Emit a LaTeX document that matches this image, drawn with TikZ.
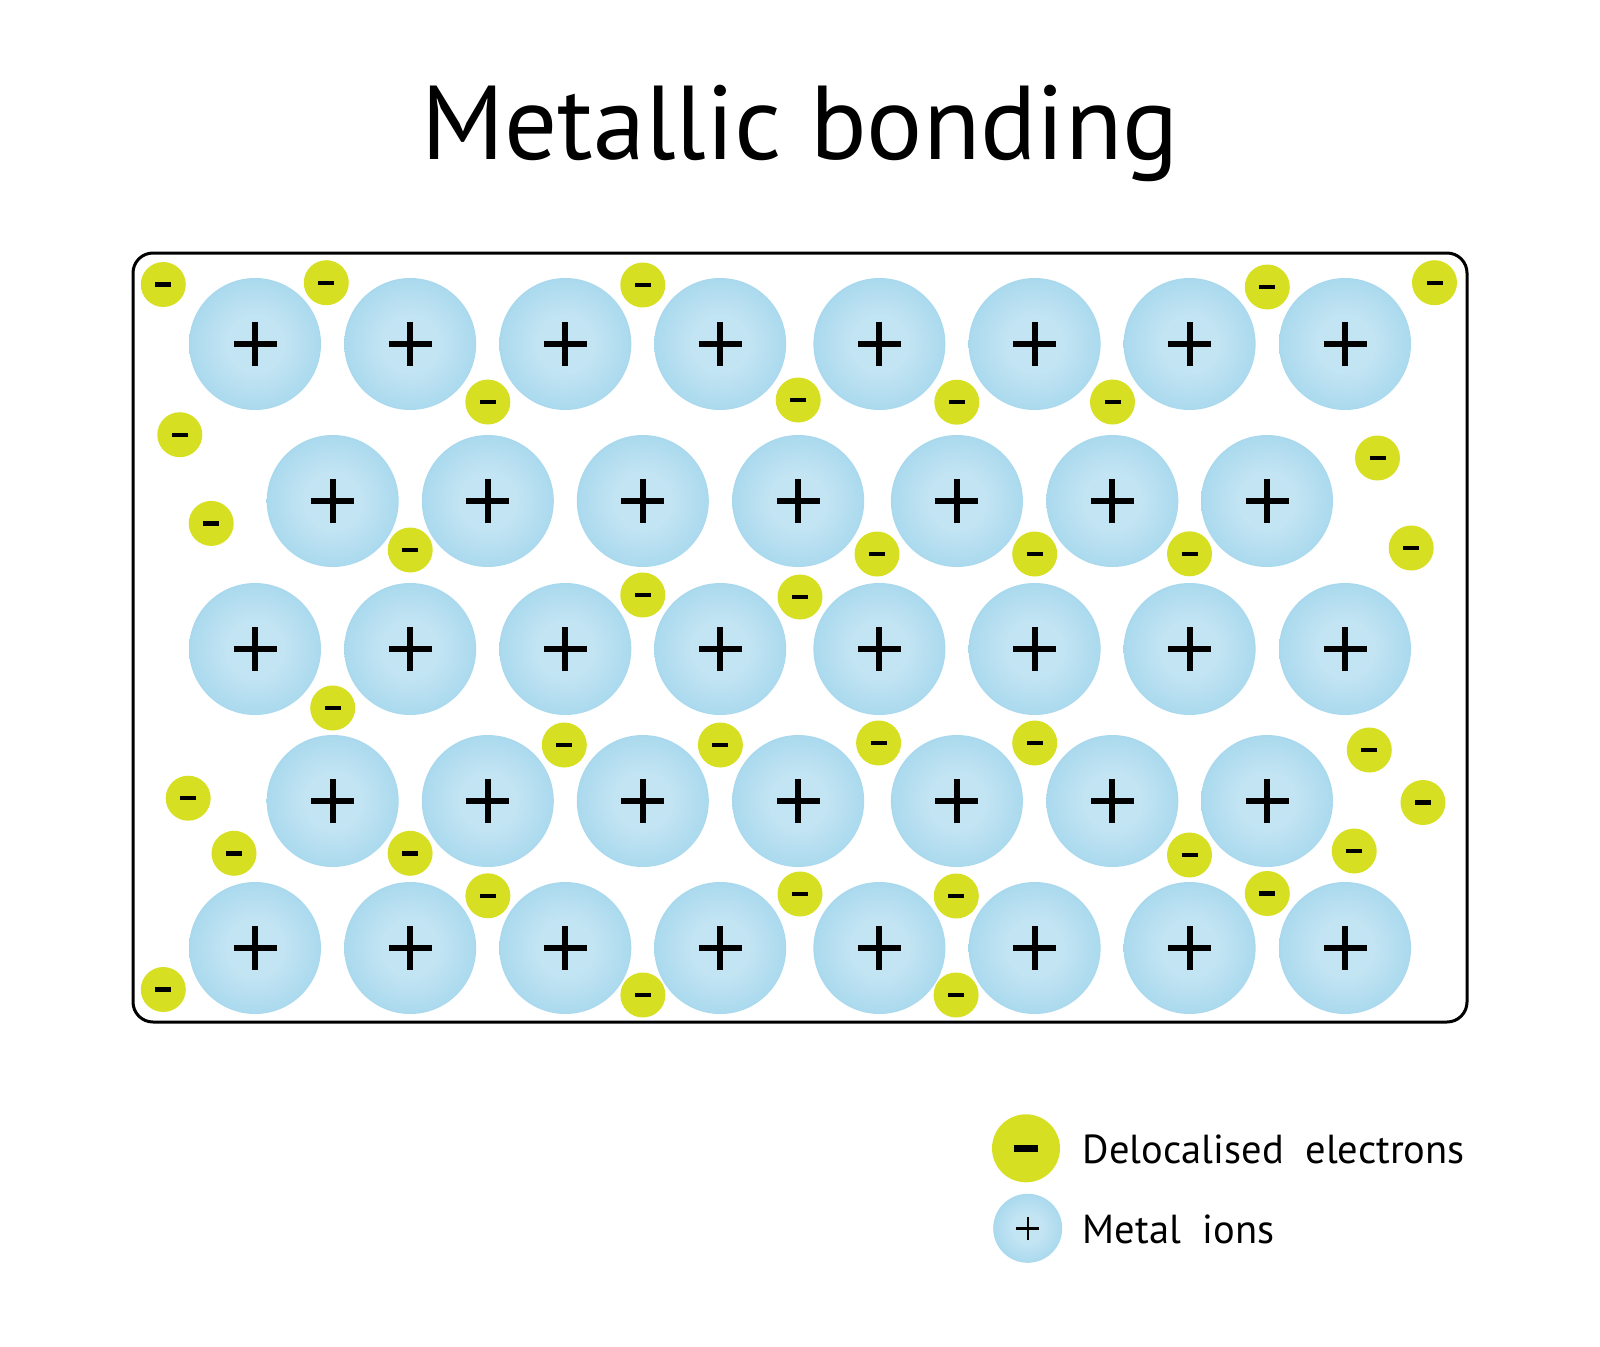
\documentclass[tikz,border=0pt]{standalone}
\usepackage{fontspec}
\setmainfont{PT Sans}
\definecolor{ionin}{RGB}{194,228,243}
\definecolor{ionmid}{RGB}{172,218,238}
\definecolor{ionmid2}{RGB}{148,207,233}
\definecolor{ionout}{RGB}{120,195,227}
\definecolor{elec}{RGB}{215,223,35}
\pgfdeclareradialshading{ionshade}{\pgfpoint{0bp}{0bp}}{color(0bp)=(ionin); color(11bp)=(ionin); color(24bp)=(ionmid); color(31bp)=(ionmid2); color(35.4bp)=(ionout); color(50bp)=(ionout)}
\tikzset{
  ion/.style={circle, minimum size=132pt, inner sep=0pt, shading=ionshade,
    path picture={\fill[black] ([xshift=-21.5pt,yshift=-3pt]path picture bounding box.center) rectangle ++(43pt,6pt);
                  \fill[black] ([xshift=-3pt,yshift=-22pt]path picture bounding box.center) rectangle ++(6pt,44pt);}},
  elec/.style={circle, minimum size=45pt, inner sep=0pt, fill=elec,
    path picture={\fill[black] ([xshift=-8pt,yshift=-2.2pt]path picture bounding box.center) rectangle ++(16pt,4.4pt);}},
  legelec/.style={circle, minimum size=68pt, inner sep=0pt, fill=elec,
    path picture={\fill[black] ([xshift=-12pt,yshift=-3.5pt]path picture bounding box.center) rectangle ++(24pt,7pt);}},
  legion/.style={circle, minimum size=69pt, inner sep=0pt, shading=ionshade,
    path picture={\fill[black] ([xshift=-11.5pt,yshift=-1.2pt]path picture bounding box.center) rectangle ++(23pt,2.4pt);
                  \fill[black] ([xshift=-1.2pt,yshift=-11.5pt]path picture bounding box.center) rectangle ++(2.4pt,23pt);}},
  legtext/.style={anchor=base west, inner sep=0pt, font=\fontsize{40.5}{46}\selectfont},
  frame/.style={line width=3pt, rounded corners=20pt}
}
\begin{document}
\begin{tikzpicture}[x=1pt,y=-1pt]
\useasboundingbox (0,0) rectangle (1600,1346);
\node[anchor=base, inner sep=0pt, font=\fontsize{105}{112}\selectfont] (title) at (800,159) {Metallic bonding};
\draw[frame] (133,253) rectangle (1467,1022);
% ions: rows 1,3,5
\foreach \r/\y in {1/344,3/649,5/948}{
  \foreach \c/\x in {1/255,2/410.2,3/565.3,4/720.2,5/879.4,6/1034.6,7/1189.6,8/1345}{
    \node[ion] (ion-\r-\c) at (\x,\y) {};
  }
}
% ions: rows 2,4
\foreach \r/\y in {2/501,4/801}{
  \foreach \c/\x in {1/332.7,2/487.8,3/642.8,4/798.2,5/956.9,6/1112.3,7/1267}{
    \node[ion] (ion-\r-\c) at (\x,\y) {};
  }
}
% electrons
\foreach \n/\x/\y in {
  1/163.3/284.5, 2/326.3/282.7, 3/642.8/285, 4/1267.3/287, 5/1434.5/282.7,
  6/487.8/402, 7/798.2/400, 8/956.8/402.2, 9/1112.5/402,
  10/179.8/434.7, 11/1377.5/458,
  12/211.2/523.4, 13/410.2/550, 14/877/554, 15/1034.7/554, 16/1189.5/553.8, 17/1411.2/548,
  18/642.8/595, 19/800/597,
  20/332.7/708,
  21/564.3/745, 22/720.4/745, 23/878.6/743, 24/1034.7/743, 25/1369.3/750,
  26/188.2/798.2, 27/1423/802.5,
  28/234/853.3, 29/410.1/853.3, 30/1189.5/855, 31/1354.2/851,
  32/487.9/895.8, 33/800/894, 34/956.3/896, 35/1267.3/893.5,
  36/163.3/989.5, 37/642.9/995, 38/956.1/995}{
  \node[elec] (e\n) at (\x,\y) {};
}
% legend
\node[legelec] (legE) at (1026,1148.3) {};
\node[legion] (legI) at (1027.7,1228.3) {};
\node[legtext] (legEt) at (1082.7,1163.3) {Delocalised\ \ electrons};
\node[legtext] (legIt) at (1082.7,1243.3) {Metal\ \ ions};
\end{tikzpicture}
\end{document}
